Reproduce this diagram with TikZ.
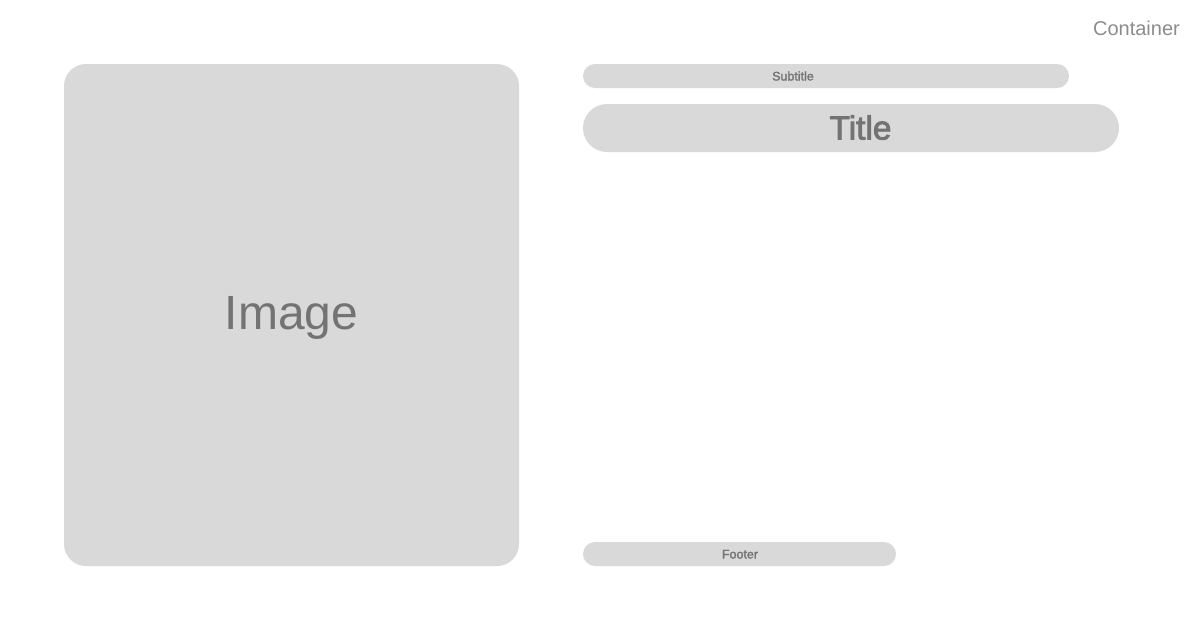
\documentclass[tikz,border=0pt]{standalone}
\usepackage{fontspec}
\setmainfont{Liberation Sans}
\newfontfamily\midfont[FakeBold=2.5]{Liberation Sans}
\newfontfamily\semifont[FakeBold=1.8]{Liberation Sans}
\definecolor{boxgray}{HTML}{D9D9D9}
\definecolor{txtgray}{HTML}{737373}
\definecolor{lightgray}{HTML}{8C8C8C}
\begin{document}
\begin{tikzpicture}[x=1pt,y=-1pt,
  panel/.style={fill=boxgray,draw=none},
  lbl/.style={text=txtgray,inner sep=0pt,anchor=base}]
\useasboundingbox (0,0) rectangle (1200,630);
% image
\fill[panel,rounded corners=22pt] (64,64) rectangle (519,566);
\node[lbl,font=\fontsize{48}{48}\selectfont] (img) at (291.5,329) {Image};
% subtitle
\fill[panel,rounded corners=12pt] (583,64) rectangle (1069,88);
\node[lbl,font=\semifont\fontsize{12.5}{13}\selectfont] (sub) at (793,80.5) {Subtitle};
% title
\fill[panel,rounded corners=24pt] (583,104) rectangle (1119,152);
\node[lbl,font=\midfont\fontsize{33.5}{34}\selectfont] (tit) at (860.5,139.5) {Title};
% footer
\fill[panel,rounded corners=12pt] (583,542) rectangle (896,566);
\node[lbl,font=\semifont\fontsize{12.5}{13}\selectfont] (foot) at (740,558.5) {Footer};
% container
\node[text=lightgray,inner sep=0pt,anchor=base east,font=\fontsize{20}{20}\selectfont] (cont) at (1180,35) {Container};
\end{tikzpicture}
\end{document}
